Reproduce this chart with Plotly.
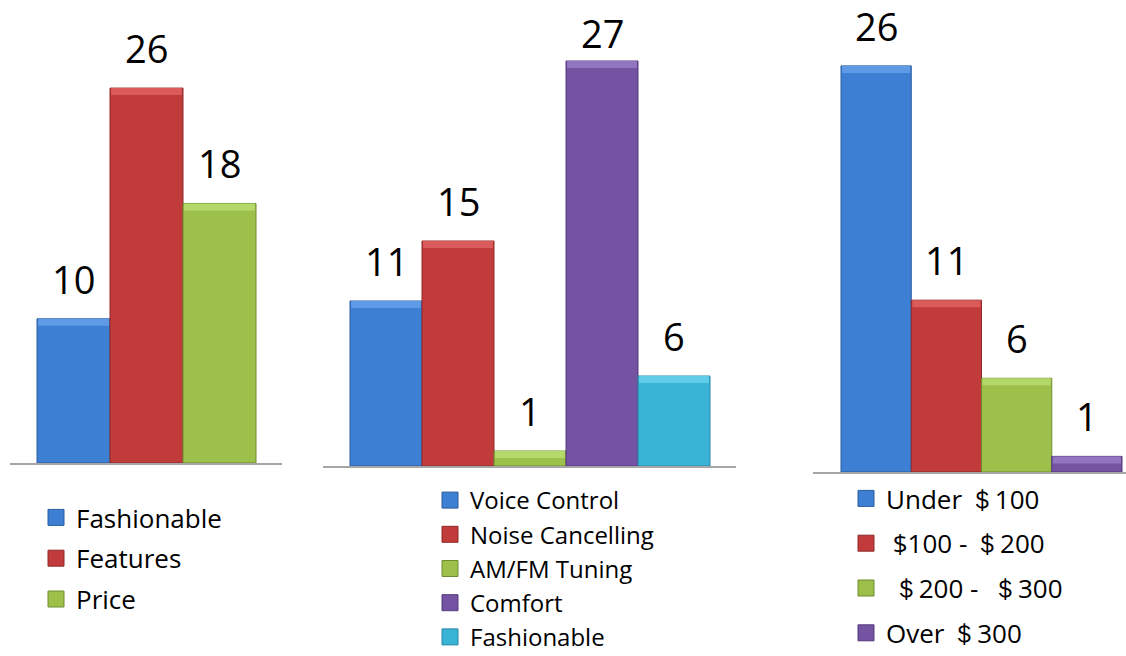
import plotly.graph_objects as go

# ---- data ----
p1_labels = ["Fashionable", "Features", "Price"]
p1_values = [10, 26, 18]

p2_labels = ["Voice Control", "Noise Cancelling", "AM/FM Tuning", "Comfort", "Fashionable"]
p2_values = [11, 15, 1, 27, 6]

p3_labels = ["Under ＄100", " $100 - ＄200", " ＄200 -  ＄300", "Over ＄300"]
p3_values = [26, 11, 6, 1]

colors = ["#3D7FD2", "#C23B3B", "#9CC04A", "#7453A3", "#3AB4D6"]
edges = ["#2A5C9E", "#8E2A2A", "#6F8C30", "#53397A", "#2888A3"]
lights = ["#5E9AE6", "#DB5A5A", "#B5D86A", "#9275C0", "#62CDE9"]

W, H = 1126, 656
FONT = "'Open Sans', Lato, sans-serif"
BEVEL_PX = 7

panels = [
    # labels, values, axis suffix, legend name, x px domain, baseline px, px per unit,
    # bar px left, bar px width, min label top px
    (p1_labels, p1_values, "", "legend", (10, 282), 463, 14.42, 37, 73.0, 0),
    (p2_labels, p2_values, "2", "legend2", (323, 736), 466, 15.0, 350, 72.0, 20),
    (p3_labels, p3_values, "3", "legend3", (813, 1126), 472, 15.62, 841, 70.25, 0),
]

fig = go.Figure()
annotations = []
layout = {}
for pi, (labs, vals, sfx, leg, (xl, xr), base, ppu, bl, bw, min_top) in enumerate(panels):
    xa = "x" + sfx
    ya = "y" + sfx
    bev = BEVEL_PX / ppu
    for i, (lab, v) in enumerate(zip(labs, vals)):
        fig.add_trace(go.Bar(
            x=[i], y=[v], width=1, name=lab, showlegend=False,
            marker=dict(color=colors[i], line=dict(color=edges[i], width=1)),
            xaxis=xa, yaxis=ya, hoverinfo="skip",
        ))
        # top bevel highlight
        fig.add_trace(go.Bar(
            x=[i], y=[min(bev, v * 0.5)], base=[v - min(bev, v * 0.5)], width=0.97,
            showlegend=False, marker=dict(color=lights[i], line=dict(width=0)),
            xaxis=xa, yaxis=ya, hoverinfo="skip",
        ))
        # legend entry
        fig.add_trace(go.Scatter(
            x=[None], y=[None], mode="markers", name=lab,
            marker=dict(symbol="square", size=16, color=colors[i],
                        line=dict(color=edges[i], width=1)),
            xaxis=xa, yaxis=ya, legend=leg, legendgroup=f"g{pi}_{i}",
            hoverinfo="skip",
        ))
        bar_top_px = base - v * ppu
        yshift = 12
        label_top_px = bar_top_px - yshift - 41
        if label_top_px < min_top:
            yshift -= (min_top - label_top_px)
        annotations.append(dict(
            x=i, y=v, xref=xa, yref=ya, text=str(v), showarrow=False,
            yanchor="bottom", yshift=yshift, font=dict(family=FONT, size=38, color="#000"),
        ))
    x0 = -0.5 - (bl - xl) / bw
    x1 = x0 + (xr - xl) / bw
    layout["xaxis" + sfx] = dict(
        domain=[xl / W, xr / W], range=[x0, x1], anchor=ya,
        showline=True, linecolor="#A6A6A6", linewidth=2,
        showticklabels=False, ticks="", showgrid=False, zeroline=False, fixedrange=True,
    )
    layout["yaxis" + sfx] = dict(
        domain=[1 - base / H, 1], range=[0, base / ppu], anchor=xa,
        showticklabels=False, showgrid=False, zeroline=False, showline=False, fixedrange=True,
    )

legend_common = dict(xanchor="left", yanchor="top", bgcolor="rgba(0,0,0,0)",
                     itemclick=False, itemdoubleclick=False, itemsizing="trace")
layout["legend"] = dict(x=36 / W, y=1 - 494 / H, font=dict(family=FONT, size=26, color="#000"),
                        tracegroupgap=4, **legend_common)
layout["legend2"] = dict(x=430 / W, y=1 - 478 / H, font=dict(family=FONT, size=24, color="#000"),
                         tracegroupgap=0, **legend_common)
layout["legend3"] = dict(x=846 / W, y=1 - 475 / H, font=dict(family=FONT, size=26, color="#000"),
                         tracegroupgap=8, **legend_common)

fig.update_layout(
    width=W, height=H, margin=dict(l=0, r=0, t=0, b=0, autoexpand=False),
    paper_bgcolor="white", plot_bgcolor="white",
    barmode="overlay", showlegend=True, annotations=annotations,
    **layout,
)

fig.write_html("out.html", config={"displayModeBar": False})
